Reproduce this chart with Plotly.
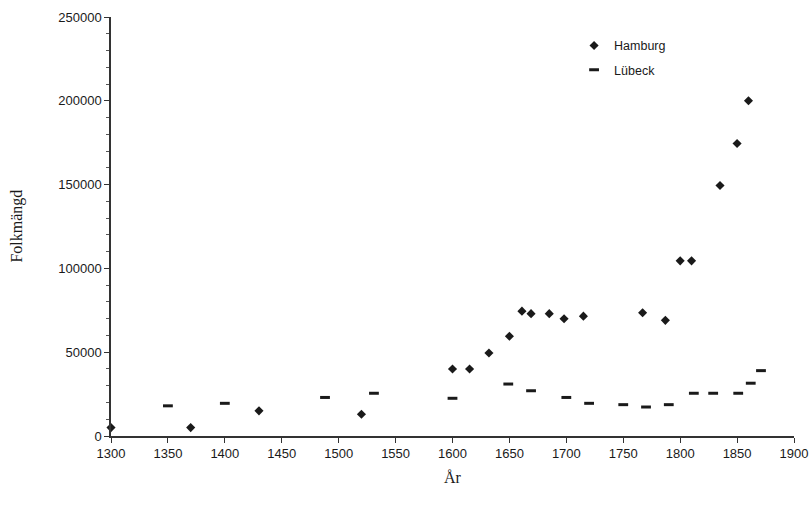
import plotly.graph_objects as go

hamburg_year = [1300, 1370, 1430, 1520, 1600, 1615, 1632, 1650, 1661, 1669, 1685, 1698, 1715, 1767, 1787, 1800, 1810, 1835, 1850, 1860]
hamburg_pop = [5000, 5000, 15000, 13000, 40000, 40000, 49500, 59500, 74500, 73000, 73000, 70000, 71500, 73500, 69000, 104500, 104500, 149500, 174500, 200000]

lubeck_year = [1350, 1400, 1488, 1531, 1600, 1649, 1669, 1700, 1720, 1750, 1770, 1790, 1812, 1829, 1851, 1862, 1871]
lubeck_pop = [18000, 19500, 23000, 25500, 22500, 31000, 27000, 23000, 19500, 18700, 17300, 18700, 25500, 25500, 25500, 31500, 39000]

x_ticks = [1300, 1350, 1400, 1450, 1500, 1550, 1600, 1650, 1700, 1750, 1800, 1850, 1900]
y_ticks = [0, 50000, 100000, 150000, 200000, 250000]

INK = "#1a1a1a"

fig = go.Figure()
fig.add_trace(go.Scatter(
    x=hamburg_year, y=hamburg_pop, mode="markers", name="Hamburg",
    legendgroup="h",
    marker=dict(symbol="diamond", size=7, color=INK, line=dict(width=0)),
    cliponaxis=False,
))
fig.add_trace(go.Scatter(
    x=lubeck_year, y=lubeck_pop, mode="markers", name="Lübeck",
    legendgroup="l",
    marker=dict(symbol="line-ew", size=7, color=INK, line=dict(width=3, color=INK)),
    cliponaxis=False,
))

fig.update_layout(
    width=809, height=513,
    margin=dict(l=111, r=15, t=17, b=77, autoexpand=False),
    paper_bgcolor="white", plot_bgcolor="white",
    font=dict(family="Liberation Sans, Arial, sans-serif", size=12, color=INK),
    showlegend=True,
    legend=dict(
        x=0.678, y=0.967, xanchor="left", yanchor="top",
        bgcolor="rgba(0,0,0,0)", itemwidth=30, tracegroupgap=5,
        font=dict(size=12.5, color=INK),
    ),
    xaxis=dict(
        range=[1300, 1900], tickvals=x_ticks, showgrid=False, zeroline=False,
        showline=True, linecolor="#333", linewidth=1.5, automargin=False,
        ticks="outside", ticklen=5, tickcolor="#333", tickwidth=1,
        tickfont=dict(size=13), fixedrange=True, ticklabeloverflow="allow",
    ),
    yaxis=dict(
        range=[0, 250000], tickvals=y_ticks, tickformat="d", showgrid=False, zeroline=False,
        showline=True, linecolor="#333", linewidth=1.5, automargin=False,
        ticks="outside", ticklen=5, tickcolor="#333", tickwidth=1,
        minor=dict(dtick=10000, ticks="outside", ticklen=3, tickcolor="#555", showgrid=False),
        tickfont=dict(size=13), fixedrange=True,
    ),
    annotations=[
        dict(text="Folkmängd", xref="paper", yref="paper", x=-0.139, y=0.5,
             textangle=-90, showarrow=False, xanchor="center", yanchor="middle",
             font=dict(family="Liberation Serif, DejaVu Serif, serif", size=16, color=INK)),
        dict(text="År", xref="paper", yref="paper", x=0.5, y=-0.1,
             showarrow=False, xanchor="center", yanchor="middle",
             font=dict(family="Liberation Serif, DejaVu Serif, serif", size=16, color=INK)),
    ],
)

fig.write_html(
    "out.html",
    config={"displayModeBar": False},
    post_script="document.body.style.margin='0';document.body.style.overflow='hidden';",
)
